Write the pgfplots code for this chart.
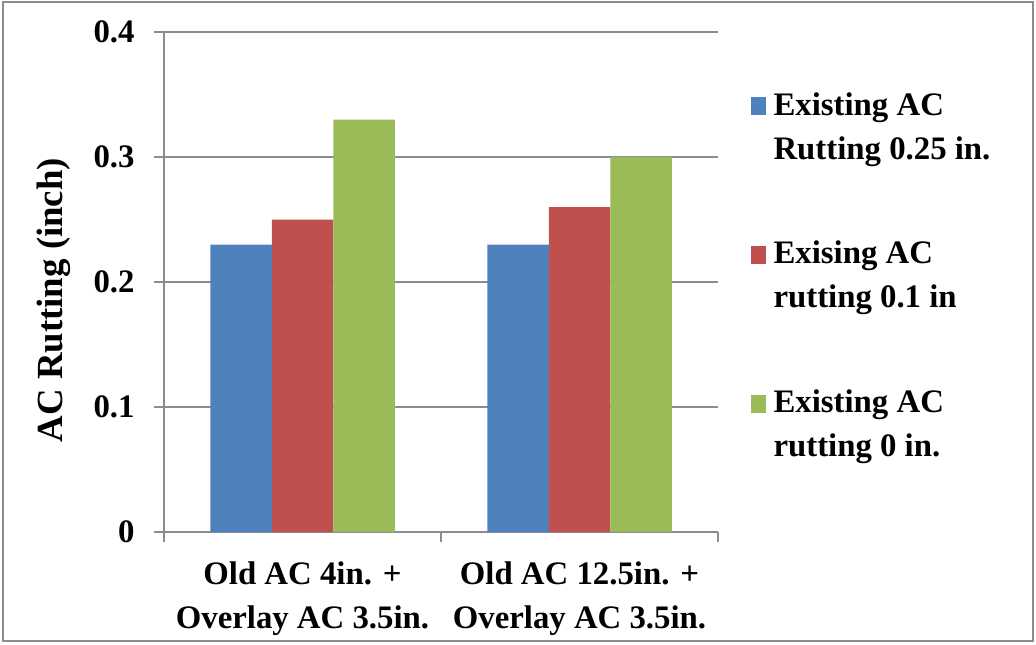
\documentclass[border=0pt]{standalone}
\usepackage{fontspec}
\setmainfont{Liberation Serif}
\usepackage{pgfplots}
\pgfplotsset{compat=1.18}
\definecolor{barblue}{HTML}{4F81BD}
\definecolor{barred}{HTML}{C0504D}
\definecolor{bargreen}{HTML}{9BBB59}
\definecolor{gridgray}{HTML}{8C8C8C}
\newcommand{\chartfont}{\bfseries\fontsize{16.4}{22}\selectfont}
\pgfplotsset{
  sq legend/.style={legend image code/.code={\fill[##1] (0pt,-5pt) rectangle (7.5pt,4pt);}},
}
\begin{document}
\begin{tikzpicture}
\begin{axis}[
  set layers,
  scale only axis, width=277pt, height=250pt,
  ybar=0pt, bar width=30.75pt,
  xmin=-0.5, xmax=1.5, ymin=0, ymax=0.4,
  axis x line*=bottom, axis y line*=left,
  axis line style={gridgray, line width=0.7pt},
  tick align=outside, major tick length=5pt,
  tick style={gridgray, line width=0.7pt},
  xtick={-0.5,0.5,1.5}, xticklabels={},
  extra x ticks={0,1},
  extra x tick labels={{Old AC 4in. +\\Overlay AC 3.5in.},{Old AC 12.5in. +\\Overlay AC 3.5in.}},
  extra x tick style={major tick length=0pt, grid=none},
  xticklabel style={font=\chartfont, align=center, inner sep=0pt, anchor=north, yshift=-14.5pt},
  ytick={0,0.1,0.2,0.3,0.4},
  ymajorgrids, grid style={gridgray, line width=0.7pt},
  yticklabel style={font=\chartfont, inner sep=0pt, anchor=east, xshift=-9.5pt,
    /pgf/number format/assume math mode=true,
    /pgf/number format/fixed, /pgf/number format/precision=1},
  ylabel={AC Rutting (inch)},
  ylabel style={font=\bfseries\fontsize{18.4}{22}\selectfont, at={(axis description cs:-0.184,0.464)}, anchor=base, inner sep=0pt},
  legend style={at={(axis description cs:1.058,0.880)}, anchor=north west,
    draw=none, fill=none, font=\chartfont, inner sep=0pt,
    row sep=61.5pt, column sep=4pt, nodes={inner sep=0pt}},
  legend cell align=left,
]
\addplot[fill=barblue, draw=none, sq legend] coordinates {(0,0.23) (1,0.23)};
\addlegendentry{\parbox[t]{130pt}{Existing AC\\Rutting 0.25 in.}}
\addplot[fill=barred, draw=none, sq legend] coordinates {(0,0.25) (1,0.26)};
\addlegendentry{\parbox[t]{130pt}{Exising AC\\rutting 0.1 in}}
\addplot[fill=bargreen, draw=none, sq legend] coordinates {(0,0.33) (1,0.30)};
\addlegendentry{\parbox[t]{130pt}{Existing AC\\rutting 0 in.}}
\end{axis}
\pgfresetboundingbox
\useasboundingbox (-82pt,-56pt) rectangle (436pt,266pt);
\draw[gridgray, line width=1pt] (-80.5pt,-54.5pt) rectangle (434.5pt,265pt);
\end{tikzpicture}
\end{document}
